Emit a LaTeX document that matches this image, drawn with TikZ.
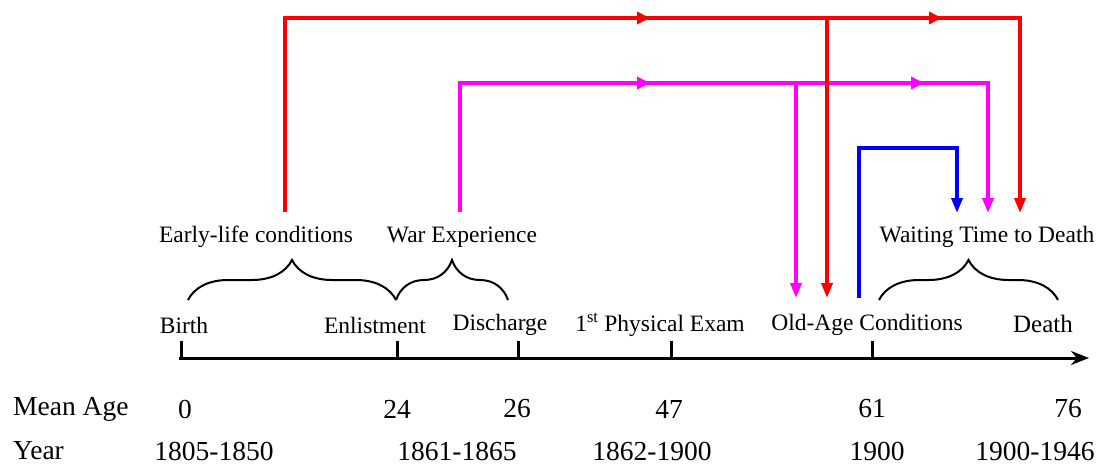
\documentclass[tikz,border=0pt]{standalone}
\usepackage{fontspec}
\setmainfont{Liberation Serif}
\usetikzlibrary{arrows.meta,decorations.pathreplacing,calc}
\definecolor{mag}{RGB}{255,0,255}
\definecolor{rd}{RGB}{255,0,0}
\definecolor{bl}{RGB}{0,0,255}
\begin{document}
\begin{tikzpicture}[x=1pt,y=-1pt,
  lbl/.style={inner sep=0pt,font=\fontsize{23.5}{26}\selectfont},
  row/.style={inner sep=0pt,font=\fontsize{27.5}{30}\selectfont},
  axis/.style={line width=3pt,black},
  tick/.style={line width=3pt,black},
  brc/.style={line width=2pt,decorate,decoration={brace,amplitude=40pt,raise=0pt}},
  redl/.style={rd,line width=3.5pt},
  magl/.style={mag,line width=3.5pt},
  bluel/.style={bl,line width=4.5pt},
  tipend/.style={-{Triangle[length=15pt,width=11pt]}},
  tipmid/.style={-{Triangle[length=13pt,width=12pt]}}
]
\useasboundingbox (0,0) rectangle (1101,466);

% axis
\coordinate (ax0) at (179,358);
\coordinate (ax1) at (1089,358);
\draw[axis,-{Stealth[length=18pt,width=14pt]}] (ax0) -- (ax1);
\foreach \n/\x in {tb/181,te/397,td/518,tp/671,to/872}{
  \coordinate (\n) at (\x,358);
  \draw[tick] (\n) -- ++(0,-17);
}

% axis labels
\node[lbl] (birth) at (184,325) {Birth};
\node[lbl] (enl) at (375,325) {Enlistment};
\node[lbl] (dis) at (500,325) {Discharge};
\node[lbl] (phys) at (660,325) {1\textsuperscript{st} Physical Exam};
\node[lbl] (old) at (867,325) {Old-Age Conditions};
\node[lbl,font=\fontsize{25}{28}\selectfont] (death) at (1043,324) {Death};

% period labels
\node[lbl] (early) at (256,237) {Early-life conditions};
\node[lbl] (war) at (462,237) {War Experience};
\node[lbl] (wait) at (987,237) {Waiting Time to Death};

% braces
\coordinate (e0) at (188,300); \coordinate (e1) at (396,300);
\coordinate (w0) at (396,300); \coordinate (w1) at (508,300);
\coordinate (t0) at (879,300); \coordinate (t1) at (1058,300);
\draw[brc] (e0) -- (e1);
\draw[brc] (w0) -- (w1);
\draw[brc] (t0) -- (t1);

% bottom rows
\node[row,anchor=west] (ma) at (13,409) {Mean Age};
\node[row] (a0) at (185,409) {0};
\node[row] (a24) at (397,409) {24};
\node[row] (a26) at (517,409) {26};
\node[row] (a47) at (669,409) {47};
\node[row] (a61) at (872,409) {61};
\node[row] (a76) at (1068,409) {76};
\node[row,anchor=west] (yr) at (13,451) {Year};
\node[row] (y1) at (214,451) {1805-1850};
\node[row] (y2) at (457,451) {1861-1865};
\node[row] (y3) at (652,451) {1862-1900};
\node[row] (y4) at (877,451) {1900};
\node[row] (y5) at (1035,451) {1900-1946};

% magenta connectors
\coordinate (m0) at (460,212);
\coordinate (mm1) at (650,83);
\coordinate (mj) at (796,83);
\coordinate (mm2) at (924,83);
\coordinate (m3) at (988,213);
\coordinate (md) at (796,298);
\draw[magl,tipend] (m0) |- (mj) -| (m3);
\draw[magl,tipmid] ($(mm1)+(-30,0)$) -- (mm1);
\draw[magl,tipmid] ($(mm2)+(-30,0)$) -- (mm2);
\draw[magl,tipend] (mj) -- (md);

% red connectors
\coordinate (r0) at (285,212);
\coordinate (rm1) at (650,18);
\coordinate (rj) at (827,18);
\coordinate (rm2) at (942,18);
\coordinate (r3) at (1020,213);
\coordinate (rd) at (827,298);
\draw[redl,tipend] (r0) |- (rj) -| (r3);
\draw[redl,tipmid] ($(rm1)+(-30,0)$) -- (rm1);
\draw[redl,tipmid] ($(rm2)+(-30,0)$) -- (rm2);
\draw[redl,tipend] (rj) -- (rd);

% blue connector
\coordinate (b0) at (859,298);
\coordinate (b3) at (957,213);
\draw[bluel,tipend] (b0) |- (908,148) -| (b3);
\end{tikzpicture}
\end{document}
